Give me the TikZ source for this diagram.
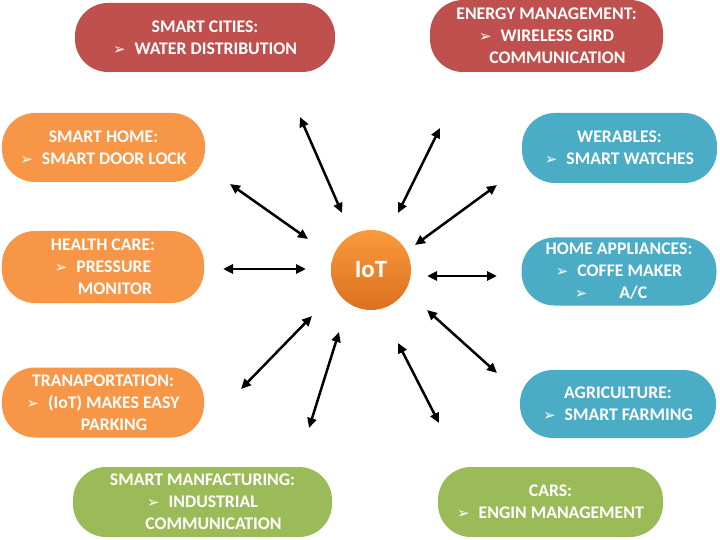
\documentclass[tikz,border=0pt]{standalone}
\usepackage{fontspec}
\setmainfont{Carlito}
\newfontfamily\dejavu{DejaVu Sans}
\usetikzlibrary{arrows.meta}
\definecolor{cred}{HTML}{C0504D}
\definecolor{corange}{HTML}{F79646}
\definecolor{cblue}{HTML}{4BACC6}
\definecolor{cgreen}{HTML}{9BBB59}
\definecolor{iottop}{HTML}{F99A3C}
\definecolor{iotbot}{HTML}{DE7020}
\newcommand{\bulsym}{{\dejavu\fontsize{15}{15}\selectfont ➢}}
\newcommand{\bul}{\bulsym\hspace{9bp}}
\tikzset{
  pill/.style={rectangle, rounded corners=33bp, draw=none, text=white,
    font=\bfseries\fontsize{17.8}{22}\selectfont, align=center, inner sep=0pt},
  conn/.style={line width=2.5bp, draw=black,
    {Triangle[length=10bp,width=9bp]}-{Triangle[length=10bp,width=9bp]}}
}
\begin{document}
\begin{tikzpicture}[x=1bp,y=-1bp]
\useasboundingbox (0,0) rectangle (720,540);
\fill[white] (0,0) rectangle (720,540);

\node[pill, fill=cred, minimum width=260bp, minimum height=69bp] (cities) at (205,37.5)
  {SMART CITIES:\\\bul WATER DISTRIBUTION};
\node[pill, fill=cred, minimum width=233bp, minimum height=72bp] (energy) at (546.5,36)
  {ENERGY MANAGEMENT:\\\bul WIRELESS GIRD\\\hspace*{22bp}COMMUNICATION};
\node[pill, fill=corange, minimum width=203bp, minimum height=69bp] (home) at (103.5,147.5)
  {SMART HOME:\\\bul SMART DOOR LOCK};
\node[pill, fill=cblue, minimum width=195bp, minimum height=70bp] (wear) at (619.5,148)
  {WERABLES:\\\bul SMART WATCHES};
\node[pill, fill=corange, minimum width=202bp, minimum height=72bp] (health) at (103,267)
  {HEALTH CARE:\\\bul PRESSURE\\\hspace*{24bp}MONITOR};
\node[pill, fill=cblue, minimum width=195bp, minimum height=68bp] (appl) at (619,271.5)
  {HOME APPLIANCES:\\\bul COFFE MAKER\\\bulsym\hspace{32bp}A/C\hspace*{16bp}};
\node[pill, fill=corange, minimum width=202bp, minimum height=70bp] (trans) at (103,402.5)
  {TRANAPORTATION:\\\bul (IoT) MAKES EASY\\\hspace*{22bp}PARKING};
\node[pill, fill=cblue, minimum width=196bp, minimum height=68bp] (agri) at (618,404)
  {AGRICULTURE:\\\bul SMART FARMING};
\node[pill, fill=cgreen, minimum width=259bp, minimum height=70bp] (manuf) at (202.5,502)
  {SMART MANFACTURING:\\\bul INDUSTRIAL\\\hspace*{22bp}COMMUNICATION};
\node[pill, fill=cgreen, minimum width=225bp, minimum height=70bp] (cars) at (550.5,502)
  {CARS:\\\bul ENGIN MANAGEMENT};

\node[circle, minimum size=80bp, inner sep=0pt, top color=iottop, bottom color=iotbot,
  text=white, font=\bfseries\fontsize{25}{25}\selectfont] (iot) at (371,270) {IoT};

\coordinate (a1) at (300,117); \coordinate (b1) at (342,213);
\coordinate (a2) at (440,128); \coordinate (b2) at (398,213);
\coordinate (a3) at (230,184); \coordinate (b3) at (308,239);
\coordinate (a4) at (497,185); \coordinate (b4) at (415,245);
\coordinate (a5) at (223,269); \coordinate (b5) at (306,269);
\coordinate (a6) at (427,276); \coordinate (b6) at (497,276);
\coordinate (a7) at (312,316); \coordinate (b7) at (241,389);
\coordinate (a8) at (427,310); \coordinate (b8) at (497,373);
\coordinate (a9) at (339,332); \coordinate (b9) at (309,428);
\coordinate (a10) at (398,343); \coordinate (b10) at (439,423);
\foreach \i in {1,...,10} { \draw[conn] (a\i) -- (b\i); }
\end{tikzpicture}
\end{document}
